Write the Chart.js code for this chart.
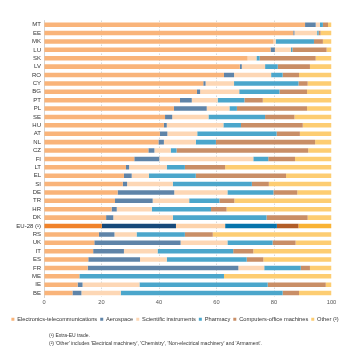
<!DOCTYPE html>
<html>
<head>
<meta charset="utf-8">
<script src="https://cdn.jsdelivr.net/npm/chart.js@4"></script>
<style>
  html, body { margin: 0; padding: 0; background: #fff; }
  #wrap { position: relative; width: 350px; height: 363px; }
  .note { position: absolute; left: 49px; font: 5px "Liberation Sans", Arial, sans-serif; color: #333; white-space: nowrap; }
</style>
</head>
<body>
<div id="wrap">
  <canvas id="chart" width="350" height="363"></canvas>
  <div class="note" style="top:332px">(¹) Extra-EU trade.</div>
  <div class="note" style="top:340px">(²) 'Other' includes 'Electrical machinery', 'Chemistry', 'Non-electrical machinery' and 'Armament'.</div>
</div>
<script>
// countries, top to bottom
const countries = ['MT', 'EE', 'MK', 'LU', 'SK', 'LV', 'RO', 'CY', 'BG', 'PT', 'PL', 'SE', 'HU', 'AT', 'NL', 'CZ', 'FI',
  'LT', 'EL', 'SI', 'DE', 'TR', 'HR', 'DK', 'EU-28 (¹)', 'RS', 'UK', 'IT', 'ES', 'FR', 'ME', 'IE', 'BE'];

// shares in %
const electronics = [90.8, 86.7, 79.8, 78.8, 70.8, 68.1, 62.6, 55.4, 53.2, 47.3, 45.2, 42.1, 41.7, 40.3, 39.8, 36.3, 31.4,
  28.5, 27.8, 27.4, 25.6, 24.7, 23.5, 21.6, 20.1, 19.1, 17.5, 17.1, 15.4, 15.2, 12.3, 11.7, 9.9];
const aerospace = [3.7, 0.4, 0, 1.5, 0, 0.7, 3.5, 0.8, 1.1, 4.1, 11.4, 2.5, 1.0, 2.6, 1.9, 2.1, 8.7,
  1.1, 2.7, 1.5, 19.7, 13.1, 1.8, 2.5, 25.8, 5.4, 30.0, 10.7, 18.0, 52.4, 0, 1.7, 3.1];
const scientific = [1.5, 7.9, 0.8, 5.6, 3.1, 8.1, 12.9, 9.9, 13.6, 9.0, 7.9, 12.6, 19.7, 10.4, 11.1, 5.7, 32.7,
  13.1, 6.0, 15.9, 18.5, 12.7, 12.2, 20.7, 17.1, 7.7, 16.3, 11.7, 9.3, 9.0, 0, 19.8, 13.7];
const pharmacy = [1.0, 0.5, 13.3, 0.5, 1.1, 4.4, 4.0, 22.4, 14.0, 9.3, 2.6, 19.7, 6.1, 27.6, 7.0, 2.0, 5.2,
  6.3, 16.3, 27.5, 16.0, 10.5, 20.6, 32.6, 18.0, 16.8, 15.7, 26.3, 27.8, 12.7, 50.3, 44.6, 56.3];
const computers = [1.8, 0.7, 3.1, 11.9, 19.5, 11.2, 5.7, 3.2, 9.6, 6.4, 24.4, 10.2, 21.5, 8.1, 34.5, 45.8, 9.3,
  14.0, 31.4, 5.9, 8.3, 5.2, 5.4, 14.3, 7.5, 9.7, 8.0, 7.0, 5.8, 3.2, 0, 20.2, 5.7];
const other = [1.2, 3.8, 3.0, 1.7, 5.5, 7.5, 11.3, 8.3, 8.5, 23.9, 8.5, 12.9, 10.0, 11.0, 5.7, 8.1, 12.7,
  37.0, 15.8, 21.8, 11.9, 33.8, 36.5, 8.3, 11.5, 41.3, 12.5, 27.2, 23.7, 7.5, 37.4, 2.0, 11.3];

const xTicks = [0, 20, 40, 60, 80, 100];

const euIndex = countries.indexOf('EU-28 (¹)');
const FONT = 'Liberation Sans, Arial, sans-serif';

// [label, data, normal colour, EU colour]
const series = [
  ['Electronics-telecommunications', electronics, '#f9b47a', '#f0822a'],
  ['Aerospace', aerospace, '#5f84a8', '#16497a'],
  ['Scientific instruments', scientific, '#fdd7b5', '#fdd3ab'],
  ['Pharmacy', pharmacy, '#4ba6cb', '#0674ab'],
  ['Computers-office machines', computers, '#c98e66', '#b15d27'],
  ['Other (²)', other, '#fdcd72', '#f9b334']
];

new Chart(document.getElementById('chart'), {
  type: 'bar',
  data: {
    labels: countries,
    datasets: series.map(s => ({
      label: s[0],
      data: s[1],
      backgroundColor: c => c.dataIndex === euIndex ? s[3] : s[2],
      borderWidth: 0,
      categoryPercentage: 1,
      barPercentage: 0.54
    }))
  },
  options: {
    indexAxis: 'y',
    responsive: false,
    animation: false,
    layout: { padding: { top: 20.5, left: 0, right: 0, bottom: 31 } },
    scales: {
      x: {
        stacked: true,
        min: 0,
        max: 100,
        afterBuildTicks: axis => { axis.ticks = xTicks.map(v => ({ value: v })); },
        afterFit: axis => { axis.height = 16; },
        ticks: { color: '#555', font: { family: FONT, size: 5.7 }, padding: 2.2 },
        grid: {
          drawTicks: false,
          color: c => (c.tick && (c.tick.value === 0 || c.tick.value === 100)) ? 'rgba(0,0,0,0)' : '#cfcfcf',
          lineWidth: 0.8
        },
        border: { display: false, dash: [1.5, 1.5] }
      },
      y: {
        stacked: true,
        afterFit: axis => { axis.width = 44; },
        ticks: { color: '#333', font: { family: FONT, size: 6 }, padding: 3, autoSkip: false },
        grid: { display: false, drawTicks: false },
        border: { display: true, color: '#c8c8c8', width: 0.8 }
      },
      yRight: {
        position: 'right',
        type: 'linear',
        afterFit: axis => { axis.width = 18.5; },
        ticks: { display: false },
        grid: { display: false, drawTicks: false },
        border: { display: false }
      }
    },
    plugins: {
      legend: {
        position: 'bottom',
        labels: {
          color: '#333',
          font: { family: FONT, size: 5.7 },
          boxWidth: 3,
          boxHeight: 3,
          padding: 3
        }
      },
      tooltip: { enabled: false }
    }
  }
});
</script>
</body>
</html>
